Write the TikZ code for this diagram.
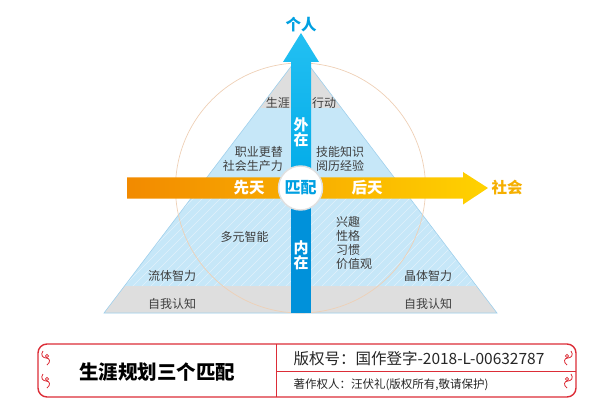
\documentclass[tikz,border=0pt]{standalone}
\usepackage{fontspec}
\setmainfont{Noto Sans CJK SC}
\usetikzlibrary{positioning,calc}
\definecolor{pyrC}{RGB}{198,231,248}
\definecolor{pyrL}{RGB}{160,208,236}
\definecolor{bandC}{RGB}{222,222,222}
\definecolor{ringC}{RGB}{238,208,182}
\definecolor{upC}{RGB}{35,192,242}
\definecolor{midC}{RGB}{0,170,232}
\definecolor{dnC}{RGB}{0,145,218}
\definecolor{orgC}{RGB}{242,138,0}
\definecolor{yelC}{RGB}{255,210,0}
\definecolor{matchC}{RGB}{0,160,225}
\definecolor{socC}{RGB}{245,175,0}
\definecolor{txtC}{RGB}{62,62,62}
\definecolor{redC}{RGB}{220,45,55}
\tikzset{
	lbl/.style={font=\fontsize{12}{14}\selectfont, text=txtC, inner sep=0pt},
	axislbl/.style={font=\fontsize{15.5}{17}\selectfont\bfseries, inner sep=0pt},
	shafttxt/.style={font=\fontsize{15}{15}\selectfont\bfseries, text=white,
		align=center, inner sep=0pt},
	curl/.style={redC, line width=.8pt},
}

\begin{document}
\begin{tikzpicture}[x=1pt, y=-1pt]
		\useasboundingbox (0,0) rectangle (616,417);
		
		% =============== PYRAMID ===============
		\coordinate (ap) at (300.5,54);
		\coordinate (bl) at (104,313);
		\coordinate (br) at (497,313);
		\fill[pyrC] (ap) -- (bl) -- (br) -- cycle;
		\fill[bandC] (ap) -- ($(ap)!0.2085!(bl)$) -- ($(ap)!0.2085!(br)$) -- cycle;
		\fill[bandC] ($(ap)!0.8958!(bl)$) -- (bl) -- (br) -- ($(ap)!0.8958!(br)$) -- cycle;
		\begin{scope}
			\clip ($(ap)!0.556!(bl)$) -- ($(ap)!0.8958!(bl)$) -- ($(ap)!0.8958!(br)$) -- ($(ap)!0.556!(br)$) -- cycle;
			\foreach \k in {0,...,50}
			\draw[white, opacity=.45, line width=.6pt] (20+\k*9,300) -- ++(110,-110);
		\end{scope}
		\draw[pyrL, line width=.6pt] (ap) -- (bl) -- (br) -- cycle;
		\draw[ringC, line width=.7pt] (300.5,188) circle[radius=125];
		
		% =============== AXES ===============
		\shade[left color=orgC, right color=yelC]
		(127,177.5) -- (463,177.5) -- (463,172) -- (488,188) -- (463,204.5) -- (463,198.5) -- (127,198.5) -- cycle;
		\shade[top color=upC, bottom color=midC]
		(291,188) -- (291,62) -- (283,62) -- (301,33) -- (319,62) -- (311,62) -- (311,188) -- cycle;
		\fill[dnC] (291,188) rectangle (311,313);
		\node[circle, fill=white, draw=black!12, line width=1.4pt, minimum size=44pt, inner sep=0pt,
		font=\fontsize{16}{17}\selectfont\bfseries, text=matchC] (match) at (300.5,188) {匹配};
		
		\node[axislbl, text=matchC] (person) at (301,25) {个人};
		\node[axislbl, text=socC] (society) at (507,188) {社会};
		\node[axislbl, text=white] (innate) at (249,188) {先天};
		\node[axislbl, text=white] (acquired) at (367,188) {后天};
		\node[shafttxt] (outer) at (301,132) {外\\在};
		\node[shafttxt] (inner) at (301,255.5) {内\\在};
		
		% =============== PYRAMID TEXTS ===============
		\node[lbl, anchor=east] (career) at (290,103) {生涯};
		\node[lbl, anchor=west] (action) at (312,103) {行动};
		\node[lbl, align=right, anchor=east] (job) at (283,159) {职业更替\\社会生产力};
		\node[lbl, align=left, anchor=west] (skill) at (316,159) {技能知识\\阅历经验};
		\node[lbl] (multi) at (244.5,237) {多元智能};
		\node[lbl, align=left, anchor=west] (trait) at (336,243) {兴趣\\性格\\习惯\\价值观};
		\node[lbl] (fluid) at (172,276) {流体智力};
		\node[lbl] (crystal) at (428,276) {晶体智力};
		\node[lbl] (selfL) at (172,304) {自我认知};
		\node[lbl] (selfR) at (428,304) {自我认知};
		
		% =============== BANNER ===============
		\draw[redC, line width=1.4pt, rounded corners=9pt, fill=white] (38,344) rectangle (576,397);
		\draw[redC, line width=.9pt] (276,344) -- (276,397);
		\draw[redC, line width=.9pt] (276,371) -- (576,371);
		\foreach \cx/\cy/\s in {46/358/1, 46/381/1, 568/358/-1, 568/381/-1}
		\draw[curl, shift={(\cx,\cy)}, xscale=\s]
		(-3,-7) .. controls (-6,-3) and (-3,0) .. (0,0) .. controls (4,0) and (5,4) .. (1,7)
		(1,-2) circle[radius=1.6];
		
		\node[font=\fontsize{19.5}{21}\selectfont\bfseries] (title) at (157,372) {生涯规划三个匹配};
		\node[anchor=west, font=\fontsize{15.5}{17}\selectfont, text=black!85] (regno) at (290,359)
		{版权号：国作登字-2018-L-00632787};
		\node[anchor=west, font=\fontsize{11.5}{13}\selectfont, text=black!85] (owner) at (290,385)
		{著作权人：汪伏礼(版权所有,敬请保护)};
		
	\end{tikzpicture}
\end{document}
